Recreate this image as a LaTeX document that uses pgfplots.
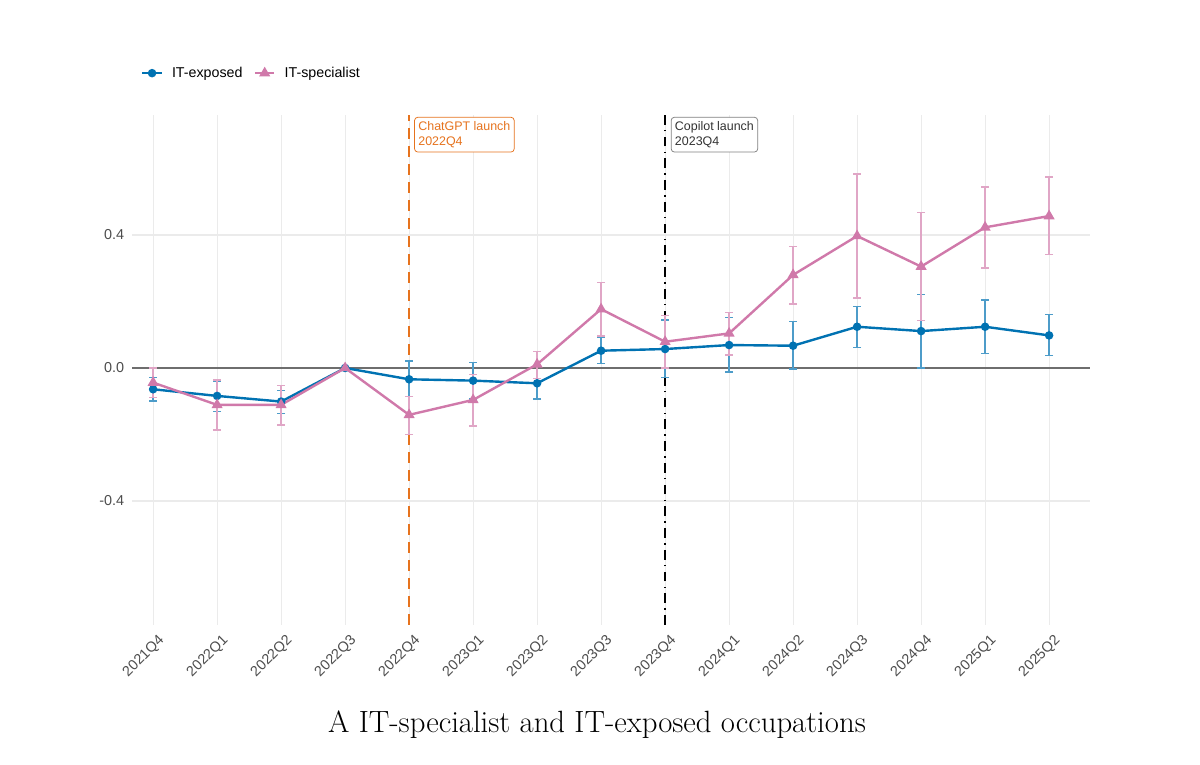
\documentclass[border=0pt]{standalone}
\usepackage{pgfplots}
\pgfplotsset{compat=1.18}
\usepackage{pgfplotstable}
\usepackage{fontspec}
\newfontfamily\axfont{Liberation Sans}
\definecolor{cblue}{RGB}{0,114,178}
\definecolor{cpink}{RGB}{208,121,170}
\definecolor{cblueerr}{RGB}{77,156,201}
\definecolor{cpinkerr}{RGB}{224,166,198}
\definecolor{corange}{RGB}{230,115,30}
\definecolor{tickgray}{RGB}{77,77,77}
\definecolor{gridgray}{RGB}{235,235,235}
\definecolor{zerogray}{RGB}{110,110,110}

% x y errplus errminus
\pgfplotstableread{
x y ep em
0 -0.064 0.036 0.035
1 -0.084 0.044 0.046
2 -0.101 0.033 0.035
3 0.000 0.000 0.000
4 -0.034 0.055 0.052
5 -0.038 0.055 0.055
6 -0.046 0.050 0.047
7 0.052 0.039 0.038
8 0.057 0.087 0.085
9 0.069 0.083 0.081
10 0.067 0.073 0.070
11 0.124 0.061 0.062
12 0.111 0.110 0.111
13 0.124 0.080 0.081
14 0.098 0.062 0.061
}\exposed

\pgfplotstableread{
x y ep em
0 -0.044 0.044 0.044
1 -0.111 0.075 0.075
2 -0.111 0.058 0.060
3 0.000 0.000 0.000
4 -0.141 0.055 0.059
5 -0.096 0.077 0.078
6 0.011 0.038 0.042
7 0.177 0.080 0.081
8 0.079 0.078 0.079
9 0.104 0.063 0.065
10 0.280 0.085 0.088
11 0.397 0.186 0.187
12 0.305 0.162 0.162
13 0.423 0.121 0.122
14 0.457 0.117 0.115
}\specialist

\begin{document}
\begin{tikzpicture}[x=1pt,y=1pt]
\useasboundingbox (0,0) rectangle (800,509.33);
\begin{axis}[
  at={(88pt,92.67pt)}, anchor=south west,
  scale only axis, width=638.7pt, height=340pt,
  xmin=-0.33, xmax=14.64, ymin=-0.773, ymax=0.761,
  xtick={0,...,14},
  xticklabels={2021Q4,2022Q1,2022Q2,2022Q3,2022Q4,2023Q1,2023Q2,2023Q3,2023Q4,2024Q1,2024Q2,2024Q3,2024Q4,2025Q1,2025Q2},
  ytick={-0.4,0,0.4},
  yticklabels={-0.4,0.0,0.4},
  grid=major,
  major grid style={gridgray, line width=0.75pt},
  axis line style={draw=none},
  major tick length=0pt,
  tick label style={font=\axfont\fontsize{9.6}{11}\selectfont, text=tickgray},
  xticklabel style={rotate=45, anchor=north east, inner sep=2pt, yshift=-4pt},
  yticklabel style={inner sep=5pt},
  legend columns=2,
  legend style={at={(0.0095,1.082)}, anchor=west, draw=none, fill=none,
    inner sep=0pt, outer sep=0pt,
    font=\axfont\fontsize{9.5}{11}\selectfont,
    /tikz/every odd column/.append style={column sep=4pt},
    /tikz/every even column/.append style={column sep=5.5pt}},
  legend image code/.code={\draw[mark repeat=2,mark phase=2,#1] plot coordinates {(0pt,0pt) (6.5pt,0pt) (13pt,0pt)};},
]
\draw[zerogray, line width=1pt] (axis cs:-0.33,0) -- (axis cs:14.64,0);
\draw[corange, line width=1.3pt, dash pattern=on 7pt off 5pt] (axis cs:4,-0.773) -- (axis cs:4,0.761);
\draw[black, line width=1.2pt, dash pattern=on 6.5pt off 3.5pt on 1pt off 3.5pt] (axis cs:8,-0.773) -- (axis cs:8,0.761);

\addplot[cblue, line width=1.6pt, mark=*, mark size=2pt,
  /pgfplots/error bars/y dir=both,
  /pgfplots/error bars/y explicit,
  /pgfplots/error bars/error bar style={draw=cblueerr, line width=0.9pt, solid},
  /pgfplots/error bars/error mark options={draw=cblueerr, line width=0.9pt, rotate=90, mark size=2.7pt}]
  table[x=x, y=y, y error plus=ep, y error minus=em] {\exposed};
\addlegendentry{IT-exposed}
\addplot[cpink, line width=1.6pt, mark=triangle*, mark size=2.7pt,
  /pgfplots/error bars/y dir=both,
  /pgfplots/error bars/y explicit,
  /pgfplots/error bars/error bar style={draw=cpinkerr, line width=0.9pt, solid},
  /pgfplots/error bars/error mark options={draw=cpinkerr, line width=0.9pt, rotate=90, mark size=2.7pt}]
  table[x=x, y=y, y error plus=ep, y error minus=em] {\specialist};
\addlegendentry{IT-specialist}

\node[anchor=north west, draw=corange, line width=0.5pt, fill=white, rounded corners=2pt,
  align=left, inner sep=2.5pt, text=corange, font=\axfont\fontsize{8.3}{10.5}\selectfont]
  at (axis cs:4.08,0.755) {ChatGPT launch\\2022Q4};
\node[anchor=north west, draw=gray, line width=0.5pt, fill=white, rounded corners=2pt,
  align=left, inner sep=2.5pt, text=black!80, font=\axfont\fontsize{8.3}{10.5}\selectfont]
  at (axis cs:8.09,0.755) {Copilot launch\\2023Q4};
\end{axis}
\node[anchor=base, font=\fontsize{20.5}{24}\selectfont] at (398,20.7) {A IT-specialist and IT-exposed occupations};
\end{tikzpicture}
\end{document}
